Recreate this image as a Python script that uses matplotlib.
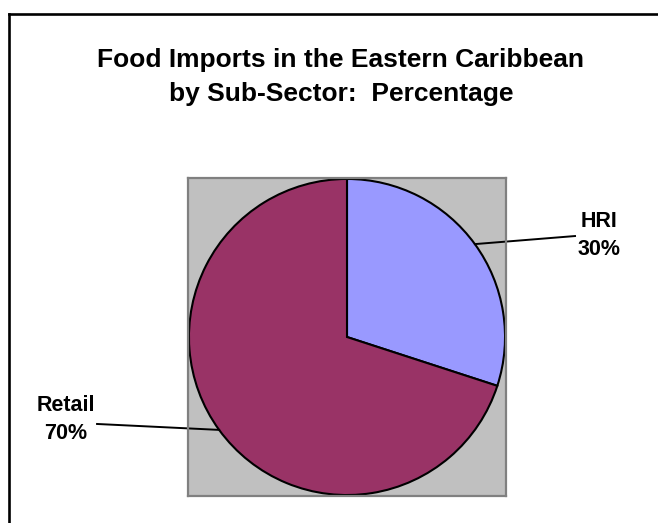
import numpy as np
import matplotlib
matplotlib.use('Agg')
import matplotlib.pyplot as plt
from matplotlib.lines import Line2D

plt.rcParams['font.family'] = ['Liberation Sans', 'DejaVu Sans']

# import shares by sub-sector (percent)
sectors = ['HRI', 'Retail']
shares = [30, 70]
colors = ['#9999FF', '#993366']
title_lines = ['Food Imports in the Eastern Caribbean', 'by Sub-Sector:  Percentage']

W, H = 658, 523
fig = plt.figure(figsize=(W / 100, H / 100), dpi=100)

# outer chart frame
fig.add_artist(Line2D([9 / W, 1.05], [1 - 14 / H, 1 - 14 / H], color='black', lw=1.9))
fig.add_artist(Line2D([9 / W, 9 / W], [1 - 14 / H, -0.05], color='black', lw=1.9))

# title, two centred lines
fig.text(341 / W, 1 - 67 / H, title_lines[0], ha='center', va='baseline',
         fontsize=19, fontweight='bold')
fig.text(341 / W, 1 - 101 / H, title_lines[1], ha='center', va='baseline',
         fontsize=19, fontweight='bold')

# plot area (grey square)
ax = fig.add_axes([188 / W, (H - 496) / H, 318 / W, 318 / H])

wedges, _ = ax.pie(shares, colors=colors, startangle=90, counterclock=False,
                   radius=0.994, frame=True,
                   wedgeprops=dict(edgecolor='black', linewidth=1.5))
ax.set_frame_on(True)
ax.set_facecolor('#C0C0C0')
for s in ax.spines.values():
    s.set_color('#808080')
    s.set_linewidth(1.6)
ax.set_xlim(-1, 1)
ax.set_ylim(-1, 1)
ax.set_aspect('equal')
ax.set_xticks([])
ax.set_yticks([])

# data labels with leader lines
label_pos = {'HRI': (1.585, 0.64), 'Retail': (-1.767, -0.52)}
line_end = {'HRI': (1.434, 0.635), 'Retail': (-1.572, -0.547)}
for w, name, val in zip(wedges, sectors, shares):
    mid = np.deg2rad((w.theta1 + w.theta2) / 2)
    px, py = w.r * np.cos(mid), w.r * np.sin(mid)
    ex, ey = line_end[name]
    ax.plot([px, ex], [py, ey], color='black', lw=1.4, clip_on=False)
    tx, ty = label_pos[name]
    ax.text(tx, ty, f'{name}\n{val}%', ha='center', va='center',
            fontsize=15.5, fontweight='bold', linespacing=1.45, clip_on=False)

fig.savefig('out.png', dpi=100)
